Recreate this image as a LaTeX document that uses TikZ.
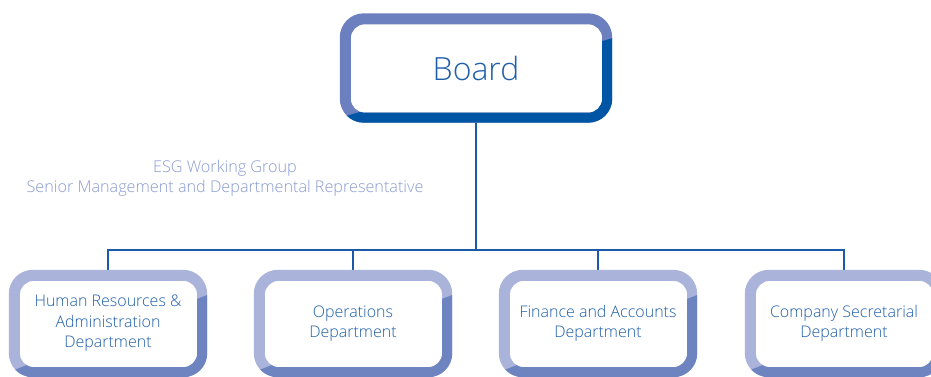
\documentclass[tikz,border=0pt]{standalone}
\usepackage{fontspec}
\IfFontExistsTF{Open Sans Light}{\setmainfont{Open Sans Light}}{\setmainfont{Open Sans}}
\usetikzlibrary{calc}
\definecolor{boardlight}{HTML}{6C80BF}
\definecolor{boarddark}{HTML}{0055A5}
\definecolor{boxlight}{HTML}{AAB3DA}
\definecolor{boxdark}{HTML}{6E84C1}
\definecolor{connblue}{HTML}{1A5AA6}
\definecolor{txtblue}{HTML}{1F5FAA}
\definecolor{esgblue}{HTML}{8A9CD2}
\newcommand\myframepath[2]{[rounded corners=24] (#1) rectangle (#2) [rounded corners=14] ($(#1)+(11,11)$) rectangle ($(#2)+(-10,-10)$)}
\newcommand\twotone[3]{%
  \fill[#2, even odd rule] \myframepath{#1.north west}{#1.south east};
  \begin{scope}
    \clip ($(#1.north east)+(3,24)$) -- ($(#1.south east)+(3,3)$) -- ($(#1.south west)+(-3,3)$) -- ($(#1.south west)+(-3,-4)$) -- cycle;
    \fill[#3, even odd rule] \myframepath{#1.north west}{#1.south east};
  \end{scope}}
\tikzset{
  boardbox/.style={minimum width=272pt, minimum height=109pt, inner sep=0pt, text=txtblue, font=\fontsize{32}{40}\selectfont},
  deptbox/.style={minimum width=198pt, minimum height=107pt, inner sep=0pt, text=txtblue, align=center, font=\fontsize{16}{20.5}\selectfont},
  conn/.style={draw=connblue, line width=2pt},
}
\begin{document}
\begin{tikzpicture}[x=1pt,y=-1pt]
\useasboundingbox (0,0) rectangle (931,376);
\clip (0,0) rectangle (931,376);
\fill[white] (0,0) rectangle (931,376);
\node[boardbox] (board) at (476,68) {Board};
\node[deptbox] (hr) at (108,323.5) {Human Resources \&\\Administration\\Department};
\node[deptbox] (ops) at (353,323.5) {Operations\\Department};
\node[deptbox] (fin) at (598,323.5) {Finance and Accounts\\Department};
\node[deptbox] (cs) at (844,323.5) {Company Secretarial\\Department};
\node[text=esgblue, align=center, font=\fontsize{16.2}{20}\selectfont] (esg) at (225,178) {ESG Working Group\\Senior Management and Departmental Representative};
\coordinate (bus) at (476,250);
\draw[conn] (board.south) -- (board.south |- bus);
\draw[conn] (hr.north) -- (hr.north |- bus) -- (cs.north |- bus) -- (cs.north);
\draw[conn] (ops.north) -- (ops.north |- bus);
\draw[conn] (fin.north) -- (fin.north |- bus);
\twotone{board}{boardlight}{boarddark}
\twotone{hr}{boxlight}{boxdark}
\twotone{ops}{boxlight}{boxdark}
\twotone{fin}{boxlight}{boxdark}
\twotone{cs}{boxlight}{boxdark}
\end{tikzpicture}
\end{document}
